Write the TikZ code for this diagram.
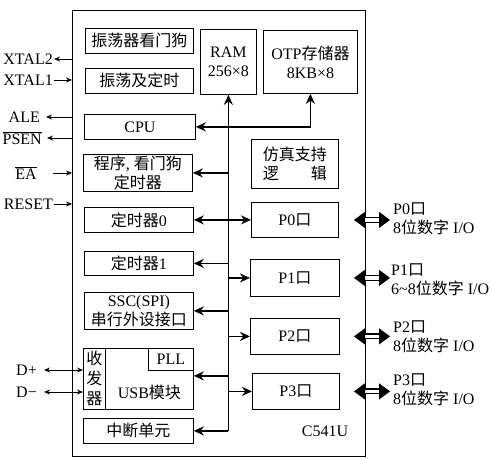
\documentclass[tikz,border=0pt]{standalone}
\usepackage{fontspec}
\setmainfont{Liberation Serif}
\newfontfamily\cjk{Noto Sans CJK SC}
\newcommand{\zh}[1]{{\cjk #1}}
\usetikzlibrary{arrows.meta}

\begin{document}
\begin{tikzpicture}[x=1pt,y=-1pt,
  blk/.style={draw, line width=0.8pt, anchor=north west, inner sep=0pt, align=center, font=\fontsize{16}{19}\selectfont},
  txt/.style={inner sep=1pt, align=left, font=\fontsize{16}{19}\selectfont},
  bus/.style={line width=1.7pt},
  busarr/.style={bus, -{Stealth[length=10pt,width=9pt]}},
  busboth/.style={bus, {Stealth[length=10pt,width=9pt]}-{Stealth[length=10pt,width=9pt]}},
  sigarr/.style={line width=0.8pt, -{Stealth[length=6pt,width=5pt]}},
  sigboth/.style={line width=0.8pt, {Stealth[length=6pt,width=5pt]}-{Stealth[length=6pt,width=5pt]}},
  fat/.style={double, double distance=3.5pt, line width=1.3pt, {Triangle[length=11pt,width=16pt]}-{Triangle[length=11pt,width=16pt]}}]
  \useasboundingbox (0,0) rectangle (492,459);
  % chip outline
  \node[draw, line width=1pt, anchor=north west, minimum width=293pt, minimum height=446pt] (chip) at (72,10) {};
  \node[txt] (name) at (325,431) {C541U};
  % left column blocks
  \node[blk, minimum width=108pt, minimum height=25pt] (osc) at (85,28) {\zh{振荡器看门狗}};
  \node[blk, minimum width=108pt, minimum height=25pt] (clk) at (85,68) {\zh{振荡及定时}};
  \node[blk, minimum width=111pt, minimum height=25pt] (cpu) at (84,114) {CPU};
  \node[blk, minimum width=109pt, minimum height=37pt] (prog) at (83,154) {\zh{程序}, \zh{看门狗}\\\zh{定时器}};
  \node[blk, minimum width=109pt, minimum height=25pt] (tm0) at (84,207) {\zh{定时器}0};
  \node[blk, minimum width=109pt, minimum height=24pt] (tm1) at (84,251) {\zh{定时器}1};
  \node[blk, minimum width=109pt, minimum height=37pt] (ssc) at (84,292) {SSC(SPI)\\\zh{串行外设接口}};
  \node[blk, minimum width=22pt, minimum height=61pt] (trx) at (83,348) {\zh{收}\\[1pt]\zh{发}\\[1pt]\zh{器}};
  \node[blk, minimum width=88pt, minimum height=61pt] (usb) at (105,348) {};
  \node[blk, minimum width=45pt, minimum height=22pt] (pll) at (148,348) {PLL};
  \node[txt] (usbtxt) at ([yshift=-14pt]usb.center) {USB\zh{模块}};
  \node[blk, minimum width=110pt, minimum height=25pt] (irq) at (83,418) {\zh{中断单元}};
  % memories
  \node[blk, minimum width=56pt, minimum height=65pt] (ram) at (200,29) {RAM\\256×8};
  \node[blk, minimum width=94pt, minimum height=63pt] (otp) at (263,30) {OTP\zh{存储器}\\8KB×8};
  % right column blocks
  \node[blk, minimum width=87pt, minimum height=49pt] (emu) at (251,139) {\zh{仿真支持}\\\zh{逻}\hspace{2em}\zh{辑}};
  \node[blk, minimum width=87pt, minimum height=35pt] (p0) at (251,202) {P0\zh{口}};
  \node[blk, minimum width=89pt, minimum height=37pt] (p1) at (250,259) {P1\zh{口}};
  \node[blk, minimum width=89pt, minimum height=36pt] (p2) at (250,318) {P2\zh{口}};
  \node[blk, minimum width=87pt, minimum height=36pt] (p3) at (252,373) {P3\zh{口}};
  % internal bus
  \coordinate (busb) at (ram.south |- irq.east);
  \draw[busarr] (busb) -- (ram.south);
  \draw[busarr] (ram.south |- cpu.east) -- (cpu.east);
  \draw[busarr] (ram.south |- cpu.east) -| (otp.south);
  \draw[busarr] (ram.south |- prog.east) -- (prog.east);
  \draw[busboth] (tm0.east) -- (tm0.east -| p0.west);
  \draw[busarr] (ram.south |- tm1.east) -- (tm1.east);
  \draw[busarr] (ram.south |- ssc.east) -- (ssc.east);
  \draw[busarr] ([yshift=3pt]ram.south |- usb.east) -- ([yshift=3pt]usb.east);
  \draw[busarr] (busb) -- (irq.east);
  \draw[busarr] (ram.south |- p1.west) -- (p1.west);
  \draw[busarr] (ram.south |- p2.west) -- (p2.west);
  \draw[busarr] (ram.south |- p3.west) -- (p3.west);
  % port pins
  \draw[fat] ([xshift=-12pt]p0.east -| chip.east) -- ([xshift=24pt]p0.east -| chip.east);
  \draw[fat] ([xshift=-12pt]p1.east -| chip.east) -- ([xshift=24pt]p1.east -| chip.east);
  \draw[fat] ([xshift=-12pt]p2.east -| chip.east) -- ([xshift=24pt]p2.east -| chip.east);
  \draw[fat] ([xshift=-12pt]p3.east -| chip.east) -- ([xshift=24pt]p3.east -| chip.east);
  \node[txt, anchor=west] (p0pin) at (392,219) {P0\zh{口}\\8\zh{位数字} I/O};
  \node[txt, anchor=west] (p1pin) at (390,280) {P1\zh{口}\\6\textasciitilde 8\zh{位数字} I/O};
  \node[txt, anchor=west] (p2pin) at (392,337) {P2\zh{口}\\8\zh{位数字} I/O};
  \node[txt, anchor=west] (p3pin) at (392,390) {P3\zh{口}\\8\zh{位数字} I/O};
  % left pins
  \node[txt, anchor=east] (xtal2) at (54,59) {XTAL2};
  \node[txt, anchor=east] (xtal1) at (54,80) {XTAL1};
  \node[txt, anchor=east] (ale) at (41,117) {ALE};
  \node[txt, anchor=east] (psen) at (43,138) {$\overline{\mbox{PSEN}}$};
  \node[txt, anchor=east] (ea) at (38,173) {$\overline{\mbox{EA}}$};
  \node[txt, anchor=east] (reset) at (54,204) {RESET};
  \node[txt, anchor=east] (dp) at (38,370) {D+};
  \node[txt, anchor=east] (dm) at (38,392) {D−};
  \draw[sigarr] (xtal2.east -| chip.west) -- (xtal2.east);
  \draw[sigarr] (xtal1.east) -- (xtal1.east -| chip.west);
  \draw[sigarr] (ale.east -| chip.west) -- ([xshift=5pt]ale.east);
  \draw[sigarr] (psen.east -| chip.west) -- ([xshift=4pt]psen.east);
  \draw[sigarr] ([xshift=15pt]ea.east) -- (ea.east -| chip.west);
  \draw[sigarr] (reset.east) -- (reset.east -| chip.west);
  \draw[sigboth] ([xshift=6pt]dp.east) -- (dp.east -| trx.west);
  \draw[sigboth] ([xshift=6pt]dm.east) -- (dm.east -| trx.west);
\end{tikzpicture}
\end{document}
